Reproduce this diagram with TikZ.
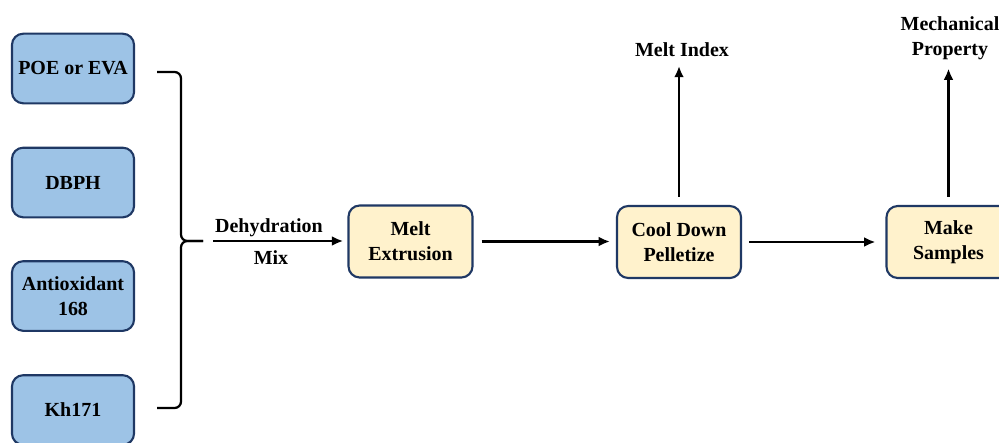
\documentclass[tikz,border=0pt]{standalone}
\usepackage{fontspec}
\setmainfont{Liberation Serif}
\usepackage{tikz}
\usetikzlibrary{calc, positioning, arrows.meta}

\definecolor{boxline}{HTML}{1F3864}
\definecolor{rawfill}{HTML}{9DC3E6}
\definecolor{stepfill}{HTML}{FFF2CC}

\begin{document}
\begin{tikzpicture}[x=0.025cm, y=-0.025cm]
\tikzstyle{raw_node}=[rectangle, rounded corners=0.28cm, draw=boxline, line width=1.5pt,
	fill=rawfill, minimum width=3.05cm, minimum height=1.74cm, align=center,
	font=\fontsize{14.2}{17.8}\selectfont\bfseries]
\tikzstyle{step_node}=[raw_node, fill=stepfill, minimum width=3.1cm, minimum height=1.8cm]
\tikzstyle{out_label}=[align=center, font=\fontsize{14.2}{17.8}\selectfont\bfseries]
\tikzstyle{flow}=[-{Latex[length=8pt,width=7pt]}, line width=1.8pt]

\useasboundingbox (0,0) rectangle (999,442);

% raw materials
\node at (73,68.5) [raw_node] (Poe) {POE or EVA};
\node at (73,182.5) [raw_node] (Dbph) {DBPH};
\node at (73,296) [raw_node] (Antiox) {Antioxidant\\168};
\node at (73,410) [raw_node] (Kh) {Kh171};

% process steps
\node at (410.5,241.5) [step_node] (MeltExt) {Melt\\Extrusion};
\node at (679,242) [step_node] (CoolDown) {Cool Down\\Pelletize};
\node at (948.5,242) [step_node] (MakeSmp) {Make\\Samples};

% tests
\node at (682,50) [out_label] (MeltIdx) {Melt Index};
\node at (950,38) [out_label] (MechProp) {Mechanical\\Property};

% brace
\coordinate (BraceTop) at (157,72);
\coordinate (BraceBot) at (157,408);
\coordinate (BraceTip) at (203,241);
\draw[line width=1.6pt, rounded corners=0.16cm] (BraceTop) -| ($(BraceTop)+(24,169)$) -- (BraceTip);
\draw[line width=1.6pt, rounded corners=0.16cm] (BraceBot) -| ($(BraceBot)+(24,-167)$) -- (BraceTip);

\coordinate (MixStart) at (213,241);
\draw[flow, shorten >=3pt] (MixStart) -- (MixStart -| MeltExt.west);
\node at (269,228) [out_label] (Dehyd) {Dehydration};
\node at (271,258) [out_label] (Mix) {Mix};

\draw[flow, shorten <=0.2cm, shorten >=0.15cm] (MeltExt.east) -- (MeltExt.east -| CoolDown.west);
\draw[flow, shorten <=0.18cm, shorten >=0.25cm] (CoolDown.east) -- (CoolDown.east -| MakeSmp.west);
\draw[flow, shorten <=0.2cm, shorten >=0.1cm] (CoolDown.north) -- (MeltIdx.south -| CoolDown.north);
\draw[flow, shorten <=0.2cm, shorten >=0.1cm] (MakeSmp.north) -- (MechProp.south -| MakeSmp.north);

\end{tikzpicture}
\end{document}
